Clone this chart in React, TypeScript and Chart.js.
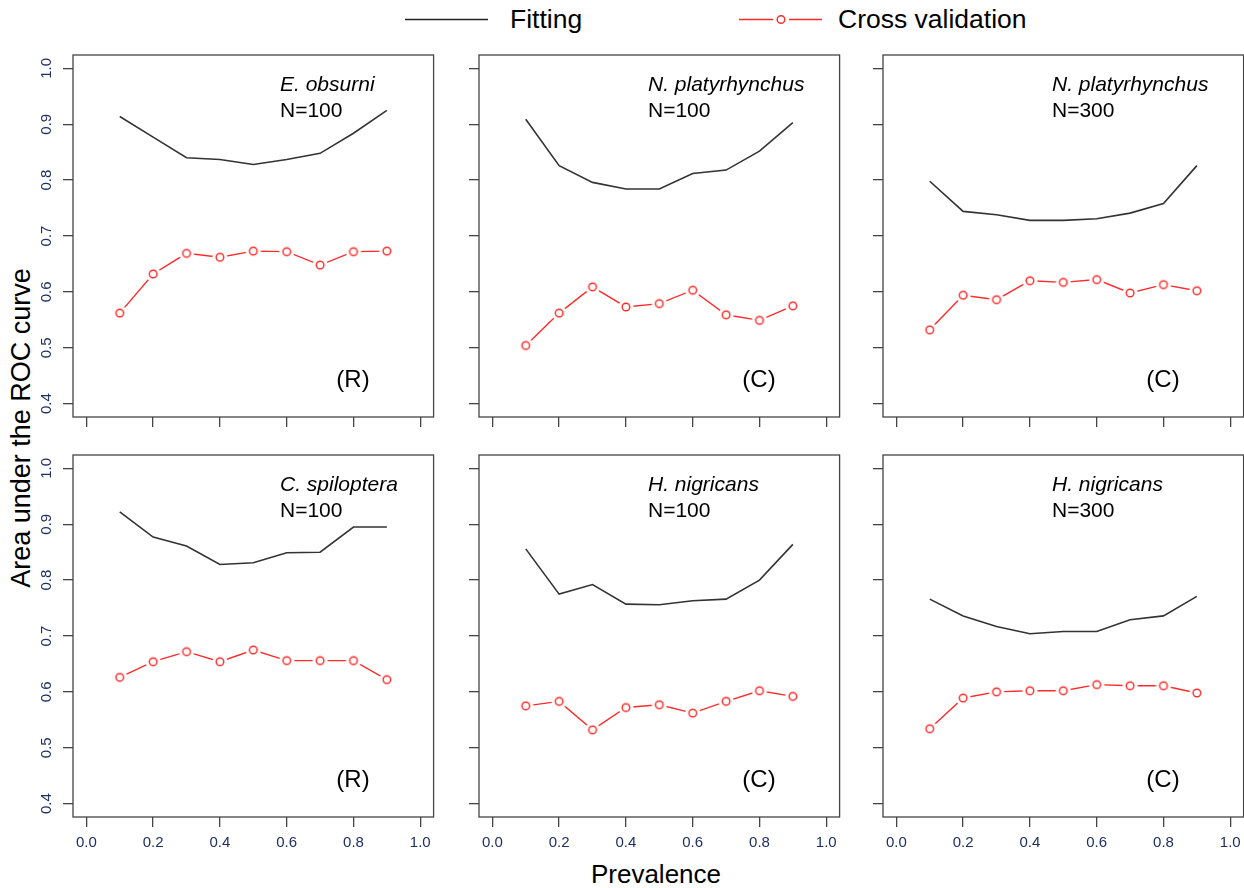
import React, { useEffect, useRef } from "react";
import { Chart, registerables } from "chart.js";

Chart.register(...registerables);

// ---------- data ----------
const prevalence = [0.1, 0.2, 0.3, 0.4, 0.5, 0.6, 0.7, 0.8, 0.9];
const xTickValues = [0, 0.2, 0.4, 0.6, 0.8, 1.0];
const yTickValues = [0.4, 0.5, 0.6, 0.7, 0.8, 0.9, 1.0];

const fitEObsurni100 = [0.914, 0.877, 0.840, 0.837, 0.828, 0.837, 0.848, 0.884, 0.925];
const cvEObsurni100 = [0.562, 0.632, 0.669, 0.662, 0.673, 0.672, 0.648, 0.672, 0.673];
const fitNPlaty100 = [0.909, 0.826, 0.796, 0.784, 0.784, 0.812, 0.818, 0.852, 0.903];
const cvNPlaty100 = [0.504, 0.562, 0.609, 0.573, 0.579, 0.603, 0.559, 0.549, 0.575];
const fitNPlaty300 = [0.798, 0.744, 0.738, 0.728, 0.728, 0.731, 0.741, 0.758, 0.826];
const cvNPlaty300 = [0.532, 0.594, 0.586, 0.620, 0.617, 0.622, 0.598, 0.613, 0.602];
const fitCSpil100 = [0.922, 0.877, 0.861, 0.828, 0.831, 0.849, 0.850, 0.895, 0.895];
const cvCSpil100 = [0.626, 0.654, 0.672, 0.654, 0.675, 0.656, 0.656, 0.656, 0.622];
const fitHNig100 = [0.856, 0.775, 0.792, 0.757, 0.756, 0.763, 0.766, 0.800, 0.864];
const cvHNig100 = [0.575, 0.583, 0.532, 0.572, 0.577, 0.562, 0.583, 0.602, 0.592];
const fitHNig300 = [0.766, 0.736, 0.717, 0.704, 0.708, 0.708, 0.729, 0.736, 0.771];
const cvHNig300 = [0.534, 0.589, 0.600, 0.602, 0.602, 0.613, 0.611, 0.611, 0.598];

const panels = [
  { species: "E. obsurni", n: "N=100", method: "(R)", fit: fitEObsurni100, cv: cvEObsurni100, col: 0, row: 0 },
  { species: "N. platyrhynchus", n: "N=100", method: "(C)", fit: fitNPlaty100, cv: cvNPlaty100, col: 1, row: 0 },
  { species: "N. platyrhynchus", n: "N=300", method: "(C)", fit: fitNPlaty300, cv: cvNPlaty300, col: 2, row: 0 },
  { species: "C. spiloptera", n: "N=100", method: "(R)", fit: fitCSpil100, cv: cvCSpil100, col: 0, row: 1 },
  { species: "H. nigricans", n: "N=100", method: "(C)", fit: fitHNig100, cv: cvHNig100, col: 1, row: 1 },
  { species: "H. nigricans", n: "N=300", method: "(C)", fit: fitHNig300, cv: cvHNig300, col: 2, row: 1 },
];

// ---------- layout ----------
const FONT = "'Liberation Sans', Arial, sans-serif";
const COL_LEFT = [73, 479, 883];
const ROW_TOP = [55, 455];
const BOX = 362;
const PAD_L = 60;
const PAD_T = 6;
const PAD_R = 4;
const X_AXIS_H = 45;
const CW = PAD_L + BOX + PAD_R;
const CH = PAD_T + BOX + X_AXIS_H;
const AXIS_COLOR = "#444";
const TICK_TEXT = "#1e2f66";
const RED = "#ff2a2a";

function makeMarker(): HTMLCanvasElement {
  const c = document.createElement("canvas");
  c.width = 20;
  c.height = 20;
  const ctx = c.getContext("2d")!;
  ctx.fillStyle = "#ffffff";
  ctx.beginPath();
  ctx.arc(10, 10, 7.6, 0, Math.PI * 2);
  ctx.fill();
  ctx.strokeStyle = RED;
  ctx.lineWidth = 1.4;
  ctx.beginPath();
  ctx.arc(10, 10, 3.8, 0, Math.PI * 2);
  ctx.stroke();
  return c;
}

function Panel({ p }: { p: (typeof panels)[number] }) {
  const ref = useRef<HTMLCanvasElement>(null);
  useEffect(() => {
    const marker = makeMarker();
    const showY = p.col === 0;
    const showX = p.row === 1;
    const textOffset = p.col === 0 ? 207 : 169;
    const overlay = {
      id: "overlay" + p.col + p.row,
      afterDraw(chart: any) {
        const { ctx, chartArea: a, scales } = chart;
        ctx.save();
        ctx.strokeStyle = AXIS_COLOR;
        ctx.lineWidth = 1.3;
        ctx.strokeRect(a.left, a.top, a.right - a.left, a.bottom - a.top);
        if (showY) {
          ctx.fillStyle = TICK_TEXT;
          ctx.font = `15px ${FONT}`;
          ctx.textAlign = "center";
          ctx.textBaseline = "middle";
          yTickValues.forEach((v) => {
            const y = scales.y.getPixelForValue(v);
            ctx.save();
            ctx.translate(a.left - 26, y);
            ctx.rotate(-Math.PI / 2);
            ctx.fillText(v.toFixed(1), 0, 0);
            ctx.restore();
          });
        }
        ctx.fillStyle = "#000";
        ctx.textAlign = "left";
        ctx.textBaseline = "alphabetic";
        ctx.font = `italic 21px ${FONT}`;
        ctx.fillText(p.species, a.left + textOffset, a.top + 35.5);
        ctx.font = `21px ${FONT}`;
        ctx.fillText(p.n, a.left + textOffset, a.top + 61.5);
        ctx.font = `24px ${FONT}`;
        ctx.textAlign = "center";
        ctx.fillText(p.method, a.left + 280, a.top + 332);
        ctx.restore();
      },
    };
    const chart = new Chart(ref.current!, {
      type: "line",
      data: {
        labels: prevalence,
        datasets: [
          {
            label: "Fitting",
            data: prevalence.map((x, i) => ({ x, y: p.fit[i] })),
            borderColor: "#333",
            borderWidth: 1.6,
            pointRadius: 0,
            tension: 0,
          },
          {
            label: "Cross validation",
            data: prevalence.map((x, i) => ({ x, y: p.cv[i] })),
            borderColor: RED,
            borderWidth: 1.4,
            pointRadius: 4,
            pointStyle: marker as any,
            tension: 0,
          },
        ],
      },
      options: {
        animation: false,
        responsive: false,
        devicePixelRatio: 1,
        layout: { padding: { left: 0, top: PAD_T, right: PAD_R, bottom: 0 } },
        plugins: { legend: { display: false }, tooltip: { enabled: false } },
        scales: {
          x: {
            type: "linear",
            min: -0.04,
            max: 1.04,
            afterBuildTicks: (s: any) => {
              s.ticks = xTickValues.map((value) => ({ value }));
            },
            afterFit: (s: any) => {
              s.height = X_AXIS_H;
            },
            border: { display: false },
            grid: { drawOnChartArea: false, drawTicks: true, tickLength: 10, color: AXIS_COLOR, lineWidth: 1.3 },
            ticks: {
              display: showX,
              padding: 7,
              color: TICK_TEXT,
              font: { family: FONT, size: 15 },
              maxRotation: 0,
              autoSkip: false,
              callback: (v: any) => Number(v).toFixed(1),
            },
          },
          y: {
            type: "linear",
            min: 0.376,
            max: 1.024,
            afterBuildTicks: (s: any) => {
              s.ticks = yTickValues.map((value) => ({ value }));
            },
            afterFit: (s: any) => {
              s.width = PAD_L;
            },
            border: { display: false },
            grid: { drawOnChartArea: false, drawTicks: true, tickLength: 10, color: AXIS_COLOR, lineWidth: 1.3 },
            ticks: { display: false },
          },
        },
      },
      plugins: [overlay],
    });
    return () => chart.destroy();
  }, []);
  return (
    <canvas
      ref={ref}
      width={CW}
      height={CH}
      style={{
        position: "absolute",
        left: COL_LEFT[p.col] - PAD_L,
        top: ROW_TOP[p.row] - PAD_T,
        width: CW,
        height: CH,
      }}
    />
  );
}

export default function App() {
  return (
    <div
      style={{
        position: "absolute",
        left: 0,
        top: 0,
        width: 1244,
        height: 888,
        overflow: "hidden",
        background: "#fff",
      }}
    >
      <svg width={1244} height={888} style={{ position: "absolute", left: 0, top: 0 }}>
        <g fontFamily={FONT} fill="#000">
          <line x1={405} y1={19.5} x2={488} y2={19.5} stroke="#222" strokeWidth={1.6} />
          <text x={510} y={28} fontSize={26.5}>Fitting</text>
          <line x1={739} y1={19.5} x2={773} y2={19.5} stroke={RED} strokeWidth={1.6} />
          <circle cx={781} cy={19.5} r={3.8} fill="none" stroke={RED} strokeWidth={1.4} />
          <line x1={789} y1={19.5} x2={822} y2={19.5} stroke={RED} strokeWidth={1.6} />
          <text x={838} y={28} fontSize={26.5}>Cross validation</text>
          <text transform="translate(30,428) rotate(-90)" textAnchor="middle" fontSize={27}>
            Area under the ROC curve
          </text>
          <text x={656} y={883} textAnchor="middle" fontSize={26}>Prevalence</text>
        </g>
      </svg>
      {panels.map((p, i) => (
        <Panel key={i} p={p} />
      ))}
    </div>
  );
}
